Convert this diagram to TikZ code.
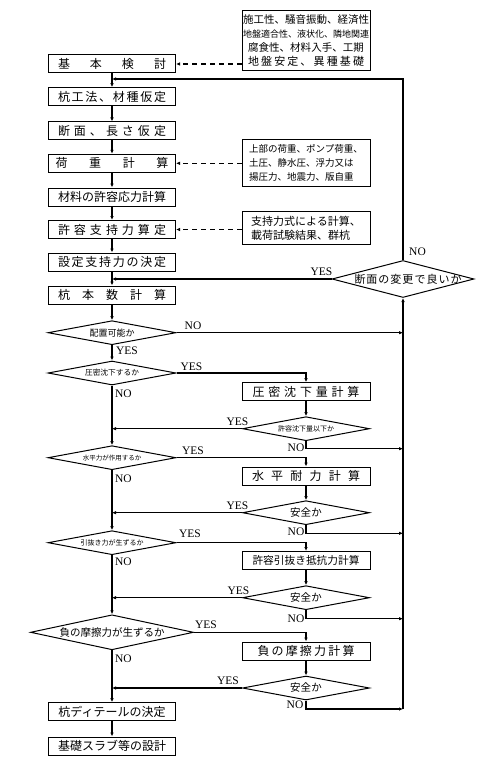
\documentclass[tikz,border=0pt]{standalone}
\usepackage{fontspec}
\setmainfont{Liberation Serif}
\newfontfamily\jpfont{Noto Sans CJK JP}
\usetikzlibrary{arrows.meta,shapes.geometric}
\tikzset{
    box/.style={draw, line width=1pt, minimum height=18pt,
                minimum width=127pt, inner sep=0pt,
                font=\jpfont\fontsize{12}{14}\selectfont},
    note/.style={draw, line width=1pt, minimum width=128pt,
                 inner xsep=6pt, inner ysep=2pt, align=left,
                 font=\jpfont\fontsize{10.5}{14}\selectfont},
    choice/.style={diamond, draw, line width=1pt, inner sep=0pt,
                   minimum width=128pt, minimum height=24pt},
    ctext/.style={inner sep=0pt, font=\jpfont\fontsize{#1}{#1}\selectfont},
    ctext/.default=7,
    flow/.style={-{Latex[length=4pt,width=3.5pt]}, line width=1.1pt},
    hint/.style={flow, dash pattern=on 5pt off 4pt},
    yn/.style={inner sep=0pt, font=\fontsize{11.5}{12}\selectfont},
}
% spread the characters of #2 over a width of #1
\makeatletter
\newcommand{\spreadtext}[2][108pt]{\makebox[#1]{\spread@go#2\@nil}}
\def\spread@go#1#2\@nil{#1\ifx\relax#2\relax\else\hfill\spread@go#2\@nil\fi}
\makeatother

\begin{document}
\begin{tikzpicture}[x=1pt,y=-1pt]
    \useasboundingbox (0,0) rectangle (498,770);

    % main column
    \node[box] (b1) at (112,64) {\spreadtext{基本検討}};
    \node[box] (b2) at (112,96.7) {\spreadtext{杭工法、材種仮定}};
    \node[box] (b3) at (112,131) {\spreadtext{断面、長さ仮定}};
    \node[box] (b4) at (112,163.3) {\spreadtext[113pt]{荷重計算}};
    \node[box] (b5) at (112,197) {\spreadtext{材料の許容応力計算}};
    \node[box] (b6) at (112,229.5) {\spreadtext{許容支持力算定}};
    \node[box] (b7) at (112,262) {\spreadtext{設定支持力の決定}};
    \node[box] (b8) at (112,295) {\spreadtext{杭本数計算}};
    \node[box] (b9) at (112,711.7) {杭ディテールの決定};
    \node[box] (b10) at (112,746) {基礎スラブ等の設計};

    \node[choice, label={[ctext=9]center:配置可能か}] (d1) at (112,332.7) {};
    \node[choice, label={[ctext=7.7]center:圧密沈下するか}] (d2) at (112,373) {};
    \node[choice, label={[ctext=6.5]center:水平力が作用するか}] (d3) at (112,457.7) {};
    \node[choice, label={[ctext=7]center:引抜き力が生ずるか}] (d4) at (112,542.7) {};
    \node[choice, minimum width=163pt, minimum height=35pt,
          label={[ctext=10.5]center:負の摩擦力が生ずるか}] (d5) at (112,632.3) {};

    % side column
    \node[box, minimum width=128pt] (r1) at (306,391.7) {\spreadtext[107pt]{圧密沈下量計算}};
    \node[box, minimum width=128pt] (r2) at (306,476) {\spreadtext{水平耐力計算}};
    \node[box, minimum width=128pt] (r3) at (306,560.5)
        {\fontsize{10.7}{13}\selectfont\spreadtext[107pt]{許容引抜き抵抗力計算}};
    \node[box, minimum width=128pt] (r4) at (306,651) {\spreadtext[97pt]{負の摩擦力計算}};

    \node[choice, minimum width=127pt, label={[ctext=7]center:許容沈下量以下か}] (c1) at (306,428.7) {};
    \node[choice, minimum width=127pt,
          label={[ctext=10.5]center:{\spreadtext[32pt]{安全か}}}] (c2) at (306,512.7) {};
    \node[choice, minimum width=127pt,
          label={[ctext=10.5]center:{\spreadtext[32pt]{安全か}}}] (c3) at (306,597.7) {};
    \node[choice, minimum width=127pt,
          label={[ctext=10.5]center:{\spreadtext[32pt]{安全か}}}] (c4) at (306,688) {};

    \node[choice, minimum width=142pt, minimum height=37pt,
          label={[ctext=11, xshift=5pt]center:{\spreadtext[107pt]{断面の変更で良いか}}}] (d9) at (403,279) {};

    % notes
    \node[note, minimum height=60pt] (n1) at (306,40.8)
        {\spreadtext[116pt]{施工性、騒音振動、経済性}\\
         {\fontsize{9}{14}\selectfont\spreadtext[116pt]{地盤適合性、液状化、隣地関連}}\\
         \spreadtext[116pt]{腐食性、材料入手、工期}\\
         {\fontsize{11}{14}\selectfont\spreadtext[116pt]{地盤安定、異種基礎}}};
    \node[note, minimum height=47.7pt, font=\jpfont\fontsize{9.5}{13.7}\selectfont] (n2) at (306,163)
        {上部の荷重、ポンプ荷重、\\土圧、静水圧、浮力又は\\揚圧力、地震力、版自重};
    \node[note, minimum height=33.3pt, font=\jpfont\fontsize{11}{13.6}\selectfont] (n3) at (306,228.3)
        {支持力式による計算、\\載荷試験結果、群杭};

    \coordinate (j1) at (403,448.7);
    \coordinate (j2) at (403,533.3);
    \coordinate (j3) at (403,618.7);
    \coordinate (j4) at (403,709);
    \coordinate (back) at (112,79);

    % YES / NO
    \node[yn] (no1) at (193,326) {NO};
    \node[yn] (yes1) at (127,351) {YES};
    \node[yn] (yes2) at (191.5,366.7) {YES};
    \node[yn] (no2) at (123.5,394) {NO};
    \node[yn] (yes3) at (237.5,422) {YES};
    \node[yn] (no3) at (296,447.3) {NO};
    \node[yn] (yes4) at (193,451) {YES};
    \node[yn] (no4) at (123.5,479) {NO};
    \node[yn] (yes5) at (237.5,506) {YES};
    \node[yn] (no5) at (296,531.3) {NO};
    \node[yn] (yes6) at (190,534) {YES};
    \node[yn] (no6) at (123.5,562) {NO};
    \node[yn] (yes7) at (238.5,590.7) {YES};
    \node[yn] (no7) at (296,618.3) {NO};
    \node[yn] (yes8) at (206,625) {YES};
    \node[yn] (no8) at (123.5,658.3) {NO};
    \node[yn] (yes9) at (228,681) {YES};
    \node[yn] (no9) at (295,705) {NO};
    \node[yn] (yes10) at (321.5,271.7) {YES};
    \node[yn] (no10) at (417.5,252) {NO};

    % connectors
    \draw[flow] (b1.south) -- (b2.north);
    \draw[flow] (b2.south) -- (b3.north);
    \draw[flow] (b3.south) -- (b4.north);
    \draw[flow] (b4.south) -- (b5.north);
    \draw[flow] (b5.south) -- (b6.north);
    \draw[flow] (b6.south) -- (b7.north);
    \draw[flow] (b7.south) -- (b8.north);
    \draw[flow] (b8.south) -- (d1.north);
    \draw[flow] (d1.south) -- (d2.north);
    \draw[flow] (d1.east) -- (d1.east -| j1);

    \draw[flow] (d2.east) -| (r1.north);
    \draw[flow] (r1.south) -- (c1.north);
    \draw[flow] (c1.west) -- (c1.west -| d2.south);
    \draw[flow] (c1.south) |- (j1);
    \draw[flow] (d2.south) -- (d3.north);

    \draw[flow] (d3.east) -| (r2.north);
    \draw[flow] (r2.south) -- (c2.north);
    \draw[flow] (c2.west) -- (c2.west -| d3.south);
    \draw[flow] (c2.south) |- (j2);
    \draw[flow] (d3.south) -- (d4.north);

    \draw[flow] (d4.east) -| (r3.north);
    \draw[flow] (r3.south) -- (c3.north);
    \draw[flow] (c3.west) -- (c3.west -| d4.south);
    \draw[flow] (c3.south) |- (j3);
    \draw[flow] (d4.south) -- (d5.north);

    \draw[flow] (d5.east) -| (r4.north);
    \draw[flow] (r4.south) -- (c4.north);
    \draw[flow] (c4.west) -- (c4.west -| d5.south);
    \draw[flow] (c4.south) |- (j4);
    \draw[flow] (d5.south) -- (b9.north);
    \draw[flow] (b9.south) -- (b10.north);

    \draw[flow] (j4) -- (d9.south);
    \draw[flow] (d9.north) |- (back);
    \draw[flow] (d9.west) -- (d9.west -| b8.north);

    \draw[hint] (b1.east -| n1.west) -- (b1.east);
    \draw[hint] (b4.east -| n2.west) -- (b4.east);
    \draw[hint] (b6.east -| n3.west) -- (b6.east);
\end{tikzpicture}
\end{document}
